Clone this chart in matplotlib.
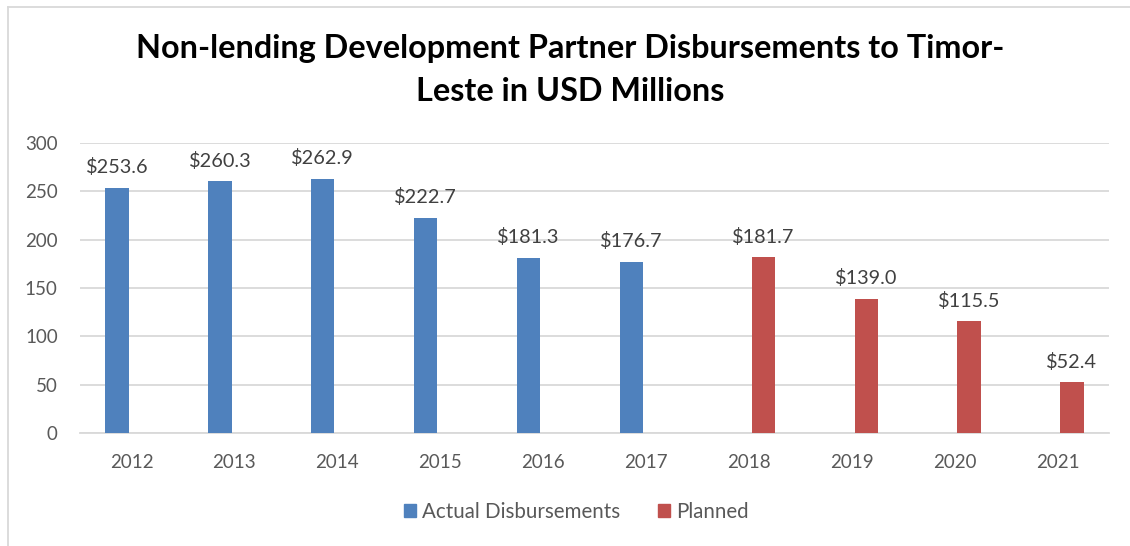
import numpy as np
import matplotlib.pyplot as plt
from matplotlib.patches import Patch
from matplotlib.lines import Line2D

plt.rcParams['font.family'] = ['Lato', 'DejaVu Sans']

years = ['2012', '2013', '2014', '2015', '2016', '2017', '2018', '2019', '2020', '2021']
actual = [253.6, 260.3, 262.9, 222.7, 181.3, 176.7, np.nan, np.nan, np.nan, np.nan]
planned = [np.nan, np.nan, np.nan, np.nan, np.nan, np.nan, 181.7, 139.0, 115.5, 52.4]

blue = '#4F81BD'
red = '#C0504D'
text_col = '#595959'
grid_col = '#D9D9D9'

fig = plt.figure(figsize=(11.3, 5.46), dpi=100)
ax = fig.add_axes([80 / 1130, 1 - 433 / 546, (1109 - 80) / 1130, (433 - 143) / 546])

x = np.arange(len(years))
w = 0.225
off = 0.14

b1 = ax.bar(x - off, actual, w, color=blue, zorder=3)
b2 = ax.bar(x + off, planned, w, color=red, zorder=3)

# data labels above bars
for xs, vals in [(x - off, actual), (x + off, planned)]:
    for xi, v in zip(xs, vals):
        if np.isnan(v):
            continue
        ax.annotate(r'\$' + f'{v:.1f}', (xi, v), xytext=(0, 8.5), textcoords='offset points',
                    ha='center', va='bottom', fontsize=14.3, color='#404040')

ax.set_xlim(-0.5, len(years) - 0.5)
ax.set_ylim(0, 300)
ax.set_yticks(range(0, 301, 50))
ax.set_xticks(x)
ax.set_xticklabels(years)
ax.tick_params(axis='y', length=0, pad=16, labelsize=13.5, labelcolor=text_col)
ax.tick_params(axis='x', length=0, pad=15, labelsize=13.5, labelcolor=text_col)
ax.grid(axis='y', color=grid_col, linewidth=1.3, zorder=0)
for s in ['top', 'right', 'left']:
    ax.spines[s].set_visible(False)
ax.spines['bottom'].set_color(grid_col)
ax.spines['bottom'].set_linewidth(1.3)

fig.text(0.505, 1 - 70 / 546, 'Non-lending Development Partner Disbursements to Timor-\nLeste in USD Millions',
         ha='center', va='center', fontsize=23.3, fontweight='bold', color='black', linespacing=1.55)

handles = [Patch(color=blue, label='Actual Disbursements'), Patch(color=red, label='Planned')]
fig.legend(handles=handles, loc='center', bbox_to_anchor=(0.51, 1 - 512 / 546), ncol=2, frameon=False,
           fontsize=14.8, labelcolor=text_col, handlelength=0.6, handleheight=0.6,
           handletextpad=0.3, columnspacing=1.8)

# chart frame (left and top edges)
fig.add_artist(Line2D([8 / 1130, 8 / 1130], [0, 1 - 7 / 546], color=grid_col, lw=1.3, transform=fig.transFigure))
fig.add_artist(Line2D([8 / 1130, 1], [1 - 7 / 546, 1 - 7 / 546], color=grid_col, lw=1.3, transform=fig.transFigure))

fig.savefig('out.png', dpi=100)
